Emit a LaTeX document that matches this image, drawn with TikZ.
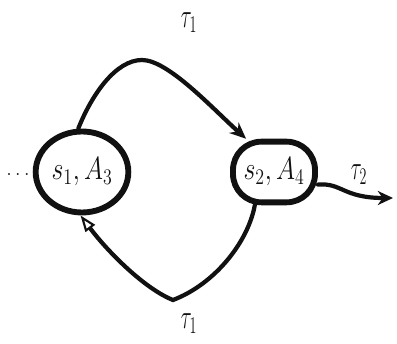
\documentclass[tikz,border=0pt]{standalone}
\usepackage{graphicx}
\usepackage{xcolor}
\usepackage{tikz}
\usetikzlibrary{positioning,arrows.meta,shapes.geometric}
\definecolor{mInk}{HTML}{111111}
\newcommand{\tallmath}[3]{\scalebox{#1}[#2]{$#3$}}
\tikzset{
  statebox/.style={draw=mInk, line width=5pt, font=\huge, text=mInk, inner sep=2pt},
  flow/.style={draw=mInk, line width=3.6pt, line cap=round},
  tlabel/.style={font=\LARGE, text=mInk, inner sep=1pt}
}

\begin{document}
\begin{tikzpicture}[x=0.03cm, y=0.03cm]
\useasboundingbox (0,0) rectangle (397,344);
% states
\node[statebox, ellipse, minimum width=2.43cm, minimum height=2.43cm] (s1) at (82,172) {\tallmath{1.06}{1.32}{s_1, A_3}};
\node[statebox, rounded corners=0.85cm, minimum width=2.46cm, minimum height=1.82cm] (s2) at (274,172) {\tallmath{1.06}{1.32}{s_2, A_4}};
\node[tlabel] (dots) at (18,169) {$\ldots$};
\coordinate (out2) at (393,146);
% transitions
\draw[flow, -{Stealth[length=14pt, width=12pt]}] (s1.95) .. controls (92,250) and (116,284) .. (142,284)
  .. controls (168,284) and (212,236) .. (s2.130);
\draw[flow, -{Triangle[open, length=14pt, width=10pt, line width=1.8pt, fill=white]}] (s2.240) .. controls (248,102) and (215,60) .. (173,44)
  .. controls (145,55) and (108,92) .. (s1.268);
\draw[flow, -{Stealth[length=13pt, width=12pt]}] (s2.344) .. controls +(24,2) and +(-50,0) .. (out2);
% labels
\node[tlabel] (t1a) at (189,321) {\tallmath{1}{1.7}{\tau_1}};
\node[tlabel] (t1b) at (189,20) {\tallmath{1}{1.7}{\tau_1}};
\node[tlabel] (t2) at (359,169) {\tallmath{1}{1.7}{\tau_2}};
\end{tikzpicture}
\end{document}
